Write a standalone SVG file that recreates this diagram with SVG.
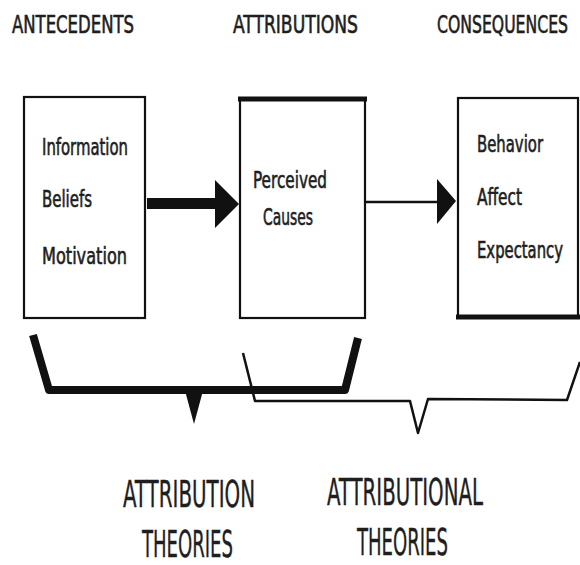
<svg xmlns="http://www.w3.org/2000/svg" width="580" height="565" viewBox="0 0 580 565">
<style>
.t{font-family:"Liberation Sans Narrow","DejaVu Sans Condensed","Liberation Sans",sans-serif;fill:#1e1e1e;stroke:#1e1e1e;stroke-width:0.6;}
.h{font-size:25px;}
.b{font-size:23px;}
.f{font-size:38px;stroke-width:0.4;text-anchor:middle;}
.e{text-anchor:end;}
.box{fill:#fff;stroke:#111;stroke-width:2.2;}
.thick{stroke:#111;stroke-width:5;fill:none;}
</style>
<rect width="580" height="565" fill="#fff"/>
<g id="header-antecedents"><text class="t h" x="12" y="33" textLength="122" lengthAdjust="spacingAndGlyphs">ANTECEDENTS</text></g>
<g id="header-attributions"><text class="t h" x="233" y="33" textLength="125" lengthAdjust="spacingAndGlyphs">ATTRIBUTIONS</text></g>
<g id="header-consequences"><text class="t h e" x="568" y="33" textLength="131" lengthAdjust="spacingAndGlyphs">CONSEQUENCES</text></g>

<g id="antecedents">
<rect class="box" x="24" y="97" width="121" height="221"/>
<text class="t b" x="42" y="155" textLength="86" lengthAdjust="spacingAndGlyphs">Information</text>
<text class="t b" x="42" y="207" textLength="50" lengthAdjust="spacingAndGlyphs">Beliefs</text>
<text class="t b" x="42" y="264" textLength="85" lengthAdjust="spacingAndGlyphs">Motivation</text>
</g>
<g id="attributions">
<rect class="box" x="240" y="99" width="125" height="219"/>
<line class="thick" x1="238" y1="99" x2="367" y2="99"/>
<text class="t b" x="253" y="188" textLength="74" lengthAdjust="spacingAndGlyphs">Perceived</text>
<text class="t b" x="263" y="225" textLength="50" lengthAdjust="spacingAndGlyphs">Causes</text>
</g>
<g id="consequences">
<rect class="box" x="458" y="98" width="120" height="219"/>
<line class="thick" x1="456" y1="317" x2="580" y2="317"/>
<text class="t b" x="477" y="152" textLength="66" lengthAdjust="spacingAndGlyphs">Behavior</text>
<text class="t b" x="477" y="205" textLength="45" lengthAdjust="spacingAndGlyphs">Affect</text>
<text class="t b e" x="563" y="258" textLength="86" lengthAdjust="spacingAndGlyphs">Expectancy</text>
</g>

<g id="connectors">
<rect x="147" y="198" width="70" height="11" fill="#111"/>
<polygon points="215,180 239,204 215,228" fill="#111"/>
<line x1="366" y1="202" x2="439" y2="202" stroke="#111" stroke-width="2.5"/>
<polygon points="437,179 456,201 437,224" fill="#111"/>
</g>

<g id="bracket-attribution-theories">
<path d="M33,335 L49,390 L345,390 L358,338" fill="none" stroke="#111" stroke-width="8" stroke-linejoin="round"/>
<polygon points="184,387 204,387 194,424" fill="#111"/>
<text class="t f" x="189" y="507" textLength="132" lengthAdjust="spacingAndGlyphs">ATTRIBUTION</text>
<text class="t f" x="187.5" y="557" textLength="91" lengthAdjust="spacingAndGlyphs">THEORIES</text>
</g>
<g id="bracket-attributional-theories">
<path d="M243,353 L255,401 L410,401 L418,433 L428,399 L567,400 L580,362" fill="none" stroke="#111" stroke-width="2.5" stroke-linejoin="round"/>
<text class="t f" x="405" y="505" textLength="156" lengthAdjust="spacingAndGlyphs">ATTRIBUTIONAL</text>
<text class="t f" x="402.5" y="555" textLength="91" lengthAdjust="spacingAndGlyphs">THEORIES</text>
</g>
</svg>
